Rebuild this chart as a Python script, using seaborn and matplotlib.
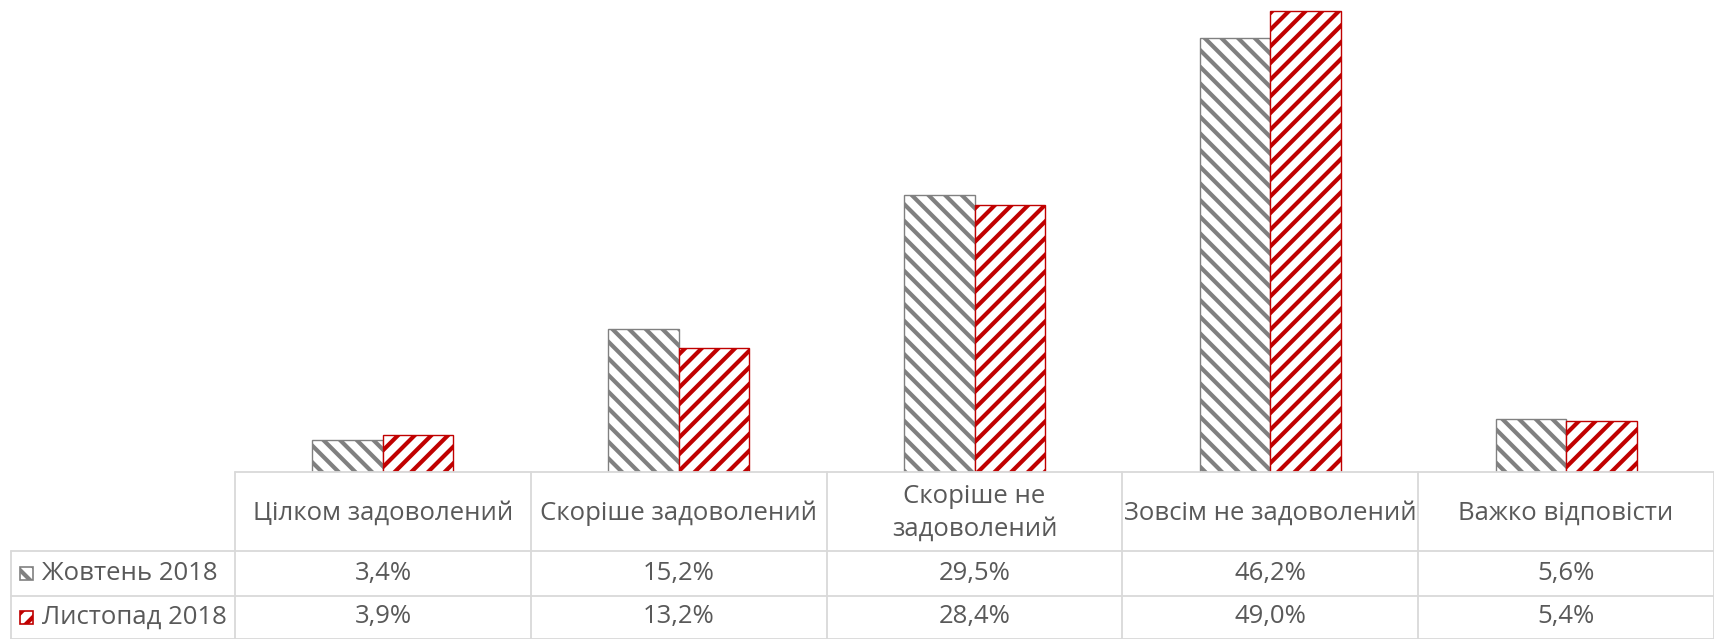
import matplotlib
matplotlib.use('Agg')
import matplotlib.pyplot as plt
import matplotlib.transforms as mtransforms
from matplotlib.patches import Rectangle
import seaborn as sns
import pandas as pd

categories = ['Цілком задоволений', 'Скоріше задоволений', 'Скоріше не\nзадоволений',
              'Зовсім не задоволений', 'Важко відповісти']
series = ['Жовтень 2018', 'Листопад 2018']
oct_2018 = [3.4, 15.2, 29.5, 46.2, 5.6]
nov_2018 = [3.9, 13.2, 28.4, 49.0, 5.4]

colors = ['#808080', '#C00000']
hatches = ['\\\\', '//']
text_color = '#595959'
grid_color = '#D9D9D9'

sns.set_theme(style='white')
plt.rcParams['font.family'] = ['Open Sans', 'DejaVu Sans']
plt.rcParams['hatch.linewidth'] = 3.0

W, H = 1714, 639
fig = plt.figure(figsize=(W / 100, H / 100), dpi=100)
ax = fig.add_axes([235 / W, (H - 472) / H, (W - 235) / W, 472 / H])

df = pd.DataFrame({
    'cat': categories * 2,
    'series': [series[0]] * len(categories) + [series[1]] * len(categories),
    'val': oct_2018 + nov_2018,
})
sns.barplot(data=df, x='cat', y='val', hue='series', order=categories, hue_order=series,
            width=0.477, palette=['white', 'white'], legend=False, ax=ax)

for container, col, h in zip(ax.containers, colors, hatches):
    for bar in container:
        bar.set_facecolor('white')
        bar.set_edgecolor(col)
        bar.set_hatch(h)
        bar.set_linewidth(1.0)

ax.set_xlim(-0.5, len(categories) - 0.5)
ax.set_ylim(0, 50.2)
ax.set_axis_off()

# table under the chart
trans = mtransforms.blended_transform_factory(ax.transData, fig.transFigure)
fy = lambda py: 1 - py / H
lw = 1.3
n = len(categories)
fs = 18.5

# horizontal lines
fig.add_artist(plt.Line2D([-0.5, n - 0.5], [fy(472), fy(472)], transform=trans,
                          color=grid_color, lw=lw))
for py in [551, 596, 638.5]:
    fig.add_artist(plt.Line2D([11 / W, 1.0], [fy(py), fy(py)], transform=fig.transFigure,
                              color=grid_color, lw=lw))
# vertical lines
fig.add_artist(plt.Line2D([11 / W, 11 / W], [fy(551), fy(639)], transform=fig.transFigure,
                          color=grid_color, lw=lw))
for i in range(n + 1):
    x = i - 0.5
    fig.add_artist(plt.Line2D([x, x], [fy(472), fy(639)], transform=trans,
                              color=grid_color, lw=lw))

# header
for i, cat in enumerate(categories):
    fig.text(i, fy(513), cat, transform=trans, ha='center', va='center',
             fontsize=fs, color=text_color, linespacing=1.4)

# rows
row_centers = [573.5, 617]
for vals, name, col, h, yc in zip([oct_2018, nov_2018], series, colors, hatches, row_centers):
    for i, v in enumerate(vals):
        fig.text(i, fy(yc), f'{v:.1f}%'.replace('.', ','), transform=trans,
                 ha='center', va='center', fontsize=fs, color=text_color)
    fig.add_artist(Rectangle((20 / W, fy(yc + 6.5)), 13 / W, 13 / H, transform=fig.transFigure,
                             facecolor='white', edgecolor=col, hatch=h, lw=1.2))
    fig.text(42 / W, fy(yc), name, ha='left', va='center', fontsize=fs, color=text_color)

fig.savefig('out.png', dpi=100)
